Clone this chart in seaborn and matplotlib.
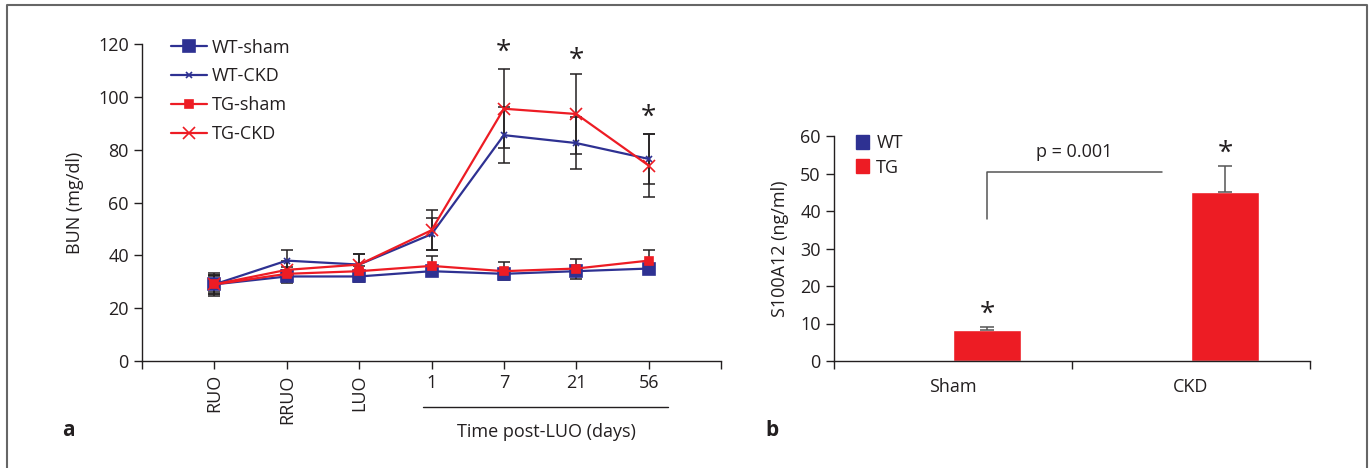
import numpy as np
import pandas as pd
import matplotlib
matplotlib.use("Agg")
import matplotlib.pyplot as plt
import seaborn as sns
from matplotlib.lines import Line2D

sns.set_style("ticks")
plt.rcParams['font.family'] = ['Open Sans', 'DejaVu Sans']
plt.rcParams['text.color'] = '#231f20'
plt.rcParams['axes.labelcolor'] = '#231f20'
plt.rcParams['xtick.color'] = '#231f20'
plt.rcParams['ytick.color'] = '#231f20'

BLUE = '#2e3192'
RED = '#ed1c24'

# panel a data
timepoints = ['RUO', 'RRUO', 'LUO', '1', '7', '21', '56']
wt_sham = [29, 32, 32, 34, 33, 34, 35]
wt_sham_err = [3, 2.5, 2, 2, 2, 2, 1.5]
wt_ckd = [29, 38, 36.5, 48, 85.5, 82.5, 76.5]
wt_ckd_err = [3.5, 4, 4, 6, 10.5, 10, 9.5]
tg_sham = [29, 33, 34, 36, 34, 35, 38]
tg_sham_err = [3.5, 2.5, 2, 3.6, 3.5, 3.8, 4]
tg_ckd = [29, 34.5, 36.5, 49.5, 95.5, 93.5, 74]
tg_ckd_err = [4.5, 3.5, 4, 7.5, 15, 15, 12]
star_points = ['7', '21', '56']
star_heights = [116.5, 113.7, 91.9]

# panel b data
conditions = ['Sham', 'CKD']
genotypes = ['WT', 'TG']
wt_s100 = [0, 0]
tg_s100 = [8.2, 45.2]
tg_s100_err = [1.0, 6.8]
p_text = 'p = 0.001'

fig = plt.figure(figsize=(13.7, 4.68), dpi=100)
ax1 = fig.add_axes([142/1370, 1-361/468, (721-142)/1370, (361-44)/468])
ax2 = fig.add_axes([834/1370, 1-361/468, (1310-834)/1370, (361-136)/468])

# ---- panel a ----
xpos = np.arange(1, len(timepoints) + 1)
series = [
    ('WT-sham', wt_sham, wt_sham_err, BLUE, 's', 8),
    ('WT-CKD', wt_ckd, wt_ckd_err, BLUE, 'x', 5),
    ('TG-sham', tg_sham, tg_sham_err, RED, 's', 5.5),
    ('TG-CKD', tg_ckd, tg_ckd_err, RED, 'x', 8),
]
for name, vals, err, col, mk, ms in series:
    ax1.errorbar(xpos, vals, yerr=err, fmt='none', ecolor='#231f20',
                 elinewidth=1.1, capsize=4, capthick=1.1, zorder=1)
for name, vals, err, col, mk, ms in series:
    sns.lineplot(x=xpos, y=vals, ax=ax1, color=col, marker=mk, markersize=ms,
                 markeredgecolor=col, markeredgewidth=1.2, linewidth=1.6,
                 label=name, zorder=3)

for tp, h in zip(star_points, star_heights):
    ax1.text(timepoints.index(tp) + 1, h, '*', ha='center', va='center', fontsize=20)

ax1.set_xlim(0, 8)
ax1.set_ylim(0, 120)
ax1.set_yticks(range(0, 121, 20))
ax1.set_xticks(range(0, 9))
ax1.set_xticklabels([''] + timepoints + [''])
for i, lab in enumerate(ax1.get_xticklabels()):
    if 1 <= i <= 3:
        lab.set_rotation(90)
        lab.set_va('top')
ax1.tick_params(axis='both', labelsize=13, length=6, width=1, direction='out')
ax1.set_ylabel('BUN (mg/dl)', fontsize=13, labelpad=10)
for s in ['top', 'right']:
    ax1.spines[s].set_visible(False)
for s in ['left', 'bottom']:
    ax1.spines[s].set_linewidth(1)
    ax1.spines[s].set_color('#231f20')

leg = ax1.legend(loc='upper left', bbox_to_anchor=(0.038, 1.04), frameon=False,
                 fontsize=13, handlelength=2.0, handletextpad=0.25, labelspacing=0.6,
                 borderaxespad=0)

# underline + caption for post-LUO days
fig.add_artist(Line2D([423/1370, 668/1370], [1-407/468, 1-407/468],
                      color='#231f20', linewidth=1))
fig.text(546/1370, 1-432/468, 'Time post-LUO (days)', ha='center', va='center', fontsize=13)

# ---- panel b ----
bdf = pd.DataFrame({
    'condition': conditions * 2,
    'genotype': [genotypes[0]] * 2 + [genotypes[1]] * 2,
    'value': wt_s100 + tg_s100,
})
sns.barplot(data=bdf, x='condition', y='value', hue='genotype', ax=ax2,
            palette={'WT': BLUE, 'TG': RED}, width=0.572, errorbar=None,
            saturation=1, legend=False)
tg_x = np.arange(len(conditions)) + 0.143
ax2.errorbar(tg_x, tg_s100, yerr=[np.zeros(2), tg_s100_err], fmt='none',
             ecolor='#555555', elinewidth=1.1, capsize=5, capthick=1.1)
for x, v, e in zip(tg_x, tg_s100, tg_s100_err):
    ax2.text(x, v + e + 3.2, '*', ha='center', va='center', fontsize=20)

# p-value bracket
ax2.plot([tg_x[0], tg_x[0], 0.88], [37.8, 50.4, 50.4], color='#555555', linewidth=1.1)
ax2.text(0.51, 55.8, p_text, ha='center', va='center', fontsize=13)

ax2.set_xlim(-0.5, 1.5)
ax2.set_ylim(0, 60)
ax2.set_yticks(range(0, 61, 10))
ax2.set_xticks([-0.5, 0.5, 1.5], minor=False)
ax2.set_xticklabels(['', '', ''])
ax2.set_xticks([0, 1], minor=True)
ax2.set_xticklabels(conditions, minor=True)
ax2.tick_params(axis='x', which='minor', length=0, labelsize=13, pad=12)
ax2.tick_params(axis='both', which='major', labelsize=13, length=6, width=1, direction='out')
ax2.set_xlabel('')
ax2.set_ylabel('S100A12 (ng/ml)', fontsize=13, labelpad=8)
for s in ['top', 'right']:
    ax2.spines[s].set_visible(False)
for s in ['left', 'bottom']:
    ax2.spines[s].set_linewidth(1)
    ax2.spines[s].set_color('#231f20')

handles = [plt.Rectangle((0, 0), 1, 1, color=BLUE), plt.Rectangle((0, 0), 1, 1, color=RED)]
ax2.legend(handles, genotypes, loc='upper left', bbox_to_anchor=(0.03, 1.04), frameon=False,
           fontsize=13, handlelength=0.75, handleheight=0.85, handletextpad=0.4,
           labelspacing=0.35, borderaxespad=0)

# panel labels
fig.text(68/1370, 1-431/468, 'a', fontsize=15, fontweight='bold', ha='center', va='center')
fig.text(772/1370, 1-431/468, 'b', fontsize=15, fontweight='bold', ha='center', va='center')

# figure frame (left, top, right)
fig.add_artist(Line2D([7/1370, 7/1370, 1367/1370, 1367/1370], [0, 1-5/468, 1-5/468, 0],
                      color='#666666', linewidth=1.5))

fig.savefig('out.png', dpi=100)
